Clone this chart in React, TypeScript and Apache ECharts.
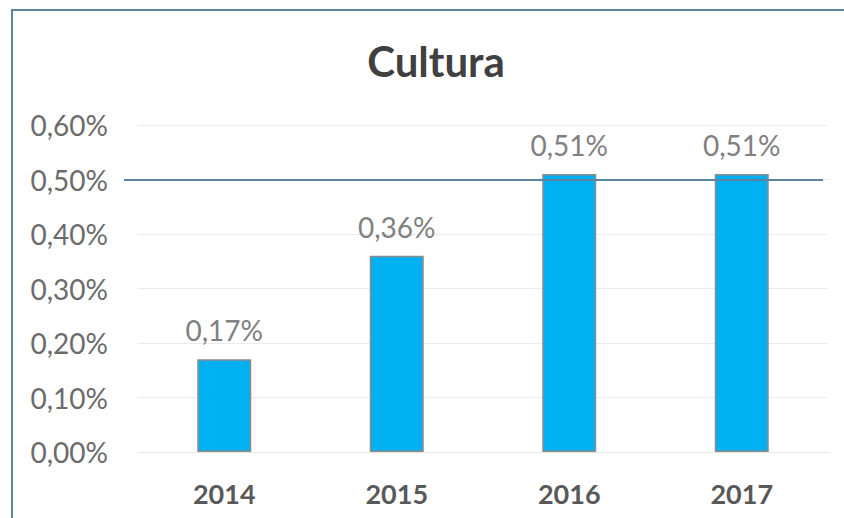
import React, { useEffect, useRef } from "react";
import * as echarts from "echarts";

const title = "Cultura";
const categories = ["2014", "2015", "2016", "2017"];
const values = [0.17, 0.36, 0.51, 0.51];
const yMin = 0;
const yMax = 0.6;
const yInterval = 0.1;
const referenceValue = 0.5;

const FONT = "Lato, 'Open Sans', sans-serif";
const fmt = (v: number) => v.toFixed(2).replace(".", ",") + "%";

export default function App() {
  const ref = useRef<HTMLDivElement>(null);
  useEffect(() => {
    if (!ref.current) return;
    const chart = echarts.init(ref.current, undefined, { renderer: "svg" });
    chart.setOption({
      animation: false,
      backgroundColor: "#ffffff",
      textStyle: { fontFamily: FONT },
      title: {
        text: title,
        left: 431,
        top: 35,
        textAlign: "center",
        textStyle: { fontFamily: FONT, fontSize: 42, fontWeight: "bold", color: "#404040" },
      },
      graphic: [
        {
          type: "rect",
          shape: { x: 12, y: 10, width: 900, height: 600 },
          style: { fill: "none", stroke: "#5B84A3", lineWidth: 2 },
          silent: true,
          z: 100,
        },
      ],
      grid: { left: 138, right: 16, top: 125, bottom: 66, containLabel: false },
      xAxis: {
        type: "category",
        data: categories,
        axisLine: { show: true, lineStyle: { color: "#E6E6E6", width: 1 } },
        axisTick: { show: false },
        axisLabel: {
          margin: 28,
          fontFamily: FONT,
          fontSize: 27,
          fontWeight: "bold",
          color: "#595959",
        },
      },
      yAxis: {
        type: "value",
        min: yMin,
        max: yMax,
        interval: yInterval,
        axisLine: { show: false },
        axisTick: { show: false },
        splitLine: { lineStyle: { color: "#EBEBEB", width: 1 } },
        axisLabel: {
          margin: 30,
          fontFamily: FONT,
          fontSize: 28,
          color: "#6B6B6B",
          formatter: (v: number) => fmt(v),
        },
      },
      series: [
        {
          type: "bar",
          data: values,
          barWidth: 54,
          itemStyle: { color: "#00B0F0", borderColor: "#8C8C8C", borderWidth: 1.5 },
          label: {
            show: true,
            position: "top",
            distance: 15,
            fontFamily: FONT,
            fontSize: 28,
            color: "#808080",
            formatter: (p: any) => fmt(p.value),
          },
          markLine: {
            silent: true,
            symbol: "none",
            label: { show: false },
            lineStyle: { color: "#5B84A3", width: 2, type: "solid" },
            z: 10,
            data: [[{ x: 124, yAxis: referenceValue }, { x: 823, yAxis: referenceValue }]],
          },
        },
      ],
    });
    return () => chart.dispose();
  }, []);
  return (
    <div
      ref={ref}
      style={{ position: "fixed", left: 0, top: 0, width: 844, height: 518 }}
    />
  );
}
